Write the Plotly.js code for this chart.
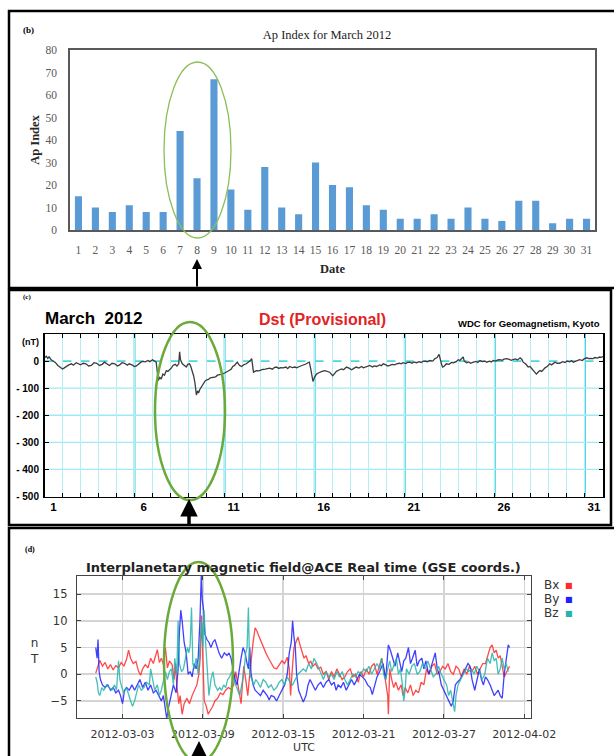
<!DOCTYPE html>
<html>
<head>
<meta charset="utf-8">
<script src="https://cdn.plot.ly/plotly-3.0.1.min.js"></script>
<style>html,body{margin:0;padding:0;background:#fff;}#chart{width:614px;height:756px;}</style>
</head>
<body>
<div id="chart"></div>
<script>
// ---------- Panel (b): Ap index, March 2012 ----------
const apDay = [1,2,3,4,5,6,7,8,9,10,11,12,13,14,15,16,17,18,19,20,21,22,23,24,25,26,27,28,29,30,31];
const apIndex = [15,10,8,11,8,8,44,23,67,18,9,28,10,7,30,20,19,11,9,5,5,7,5,10,5,4,13,13,3,5,5];

// ---------- Panel (c): Dst (provisional), day of March (0 = Mar 1 00UT) ----------
const dstDay = [
 0,0.1,0.18,0.25,0.37,0.5,0.6,0.74,0.85,1.0,
 1.1,1.2,1.35,1.5,1.6,1.76,1.9,2.0,2.15,2.3,
 2.45,2.6,2.75,2.9,3.05,3.2,3.33,3.45,3.6,3.75,
 3.9,4.05,4.17,4.3,4.44,4.6,4.7,4.85,5.0,5.1,
 5.2,5.35,5.46,5.6,5.74,5.85,6.0,6.1,6.2,6.27,
 6.32,6.4,6.48,6.57,6.66,6.76,6.85,6.94,7.05,7.13,
 7.25,7.35,7.45,7.5,7.55,7.65,7.75,7.87,7.95,8.05,
 8.12,8.2,8.28,8.35,8.43,8.5,8.55,8.62,8.7,8.8,
 8.9,8.98,9.1,9.2,9.35,9.5,9.6,9.7,9.85,10.0,
 10.1,10.25,10.37,10.45,10.55,10.62,10.7,10.78,10.83,10.95,
 11.05,11.2,11.3,11.4,11.5,11.55,11.6,11.68,11.76,11.9,
 12.0,12.1,12.25,12.4,12.5,12.65,12.75,12.87,13.0,13.1,
 13.24,13.4,13.5,13.6,13.75,13.9,14.0,14.15,14.35,14.45,
 14.54,14.62,14.7,14.78,14.85,14.9,15.0,15.1,15.2,15.28,
 15.4,15.56,15.7,15.83,15.92,16.0,16.1,16.2,16.35,16.5,
 16.6,16.76,16.9,17.05,17.15,17.3,17.45,17.6,17.7,17.85,
 17.95,18.06,18.2,18.3,18.43,18.6,18.7,18.8,18.95,19.05,
 19.17,19.3,19.45,19.54,19.7,19.8,19.9,20.05,20.15,20.28,
 20.4,20.5,20.65,20.8,20.9,21.0,21.15,21.25,21.4,21.55,
 21.67,21.78,21.9,21.97,22.05,22.1,22.2,22.3,22.45,22.6,
 22.7,22.85,22.96,23.05,23.15,23.24,23.3,23.43,23.55,23.65,
 23.8,23.95,24.05,24.17,24.3,24.45,24.54,24.7,24.8,24.9,
 25.05,25.15,25.28,25.4,25.5,25.65,25.8,25.9,26.0,26.15,
 26.25,26.4,26.5,26.57,26.7,26.85,26.95,27.1,27.2,27.3,
 27.38,27.5,27.6,27.68,27.78,27.9,28.05,28.15,28.33,28.45,
 28.6,28.75,28.9,29.0,29.15,29.25,29.35,29.5,29.6,29.7,
 29.85,29.95,30.1,30.2,30.3,30.45,30.55,30.7,30.8,30.9,
 31.0];
const dstNT = [
 12,18,10,16,5,0,-5,-16,-22,-29,
 -25,-20,-14,-10,-15,-6,-12,-14,-8,-10,
 -18,-16,-6,-8,-16,-12,-4,-9,-16,-8,
 -10,-18,-14,-6,-8,-15,-10,-14,-20,-18,
 -12,-4,-1,-3,2,-2,5,2,-4,-45,
 -72,-60,-66,-48,-52,-35,-38,-32,-25,-16,
 -12,-18,-10,34,5,-10,-16,-22,-12,-10,
 -20,-35,-55,-80,-125,-110,-118,-105,-95,-85,
 -75,-70,-68,-62,-60,-58,-52,-51,-48,-44,
 -41,-35,-29,-20,-16,-10,-4,-12,-16,-20,
 -14,-10,-6,0,9,-20,-41,-38,-35,-36,
 -33,-31,-30,-28,-26,-30,-24,-22,-27,-24,
 -25,-22,-28,-20,-24,-22,-25,-20,-16,-12,
 -10,-6,-4,-30,-60,-75,-58,-48,-44,-41,
 -38,-35,-38,-41,-48,-54,-46,-38,-33,-29,
 -32,-22,-26,-32,-28,-22,-26,-20,-25,-22,
 -18,-16,-22,-18,-20,-14,-17,-10,-14,-18,
 -16,-12,-14,-10,-8,-10,-6,-9,-5,-4,
 -8,-3,-6,-2,-5,-1,0,-3,2,0,
 9,12,25,0,-15,-22,-18,-10,-12,-5,
 -6,-2,5,2,8,15,0,-6,-3,-8,
 -4,-1,-5,2,-2,0,-4,0,-3,2,
 0,4,5,3,7,9,6,3,5,8,
 4,12,6,-4,-10,-22,-20,-32,-38,-48,
 -42,-35,-38,-30,-25,-20,-10,-14,-4,-8,
 -8,-2,-5,0,-3,2,-4,0,3,5,
 2,8,12,9,10,9,13,11,15,14,
 17];
const dstTickVals = [0.5,5.5,10.5,15.5,20.5,25.5,30.5];
const dstTickText = ['1','6','11','16','21','26','31'];
const dstYTickVals = [0,-100,-200,-300,-400,-500];
const dstYTickText = ['0','- 100','- 200','- 300','- 400','- 500'];
const dstGridLevels = [-100,-200,-300,-400];
const dstMajorDays = [5,10,15,20,25,30];

// ---------- Panel (d): IMF @ ACE (GSE), day of March ----------
const bxDay = [
 0,0.15,0.3,0.5,0.7,0.9,1.1,1.3,1.5,1.7,
 1.9,2.1,2.3,2.45,2.6,2.8,3.0,3.2,3.35,3.5,
 3.7,3.9,4.1,4.3,4.45,4.6,4.75,4.9,5.05,5.2,
 5.35,5.5,5.7,5.85,5.95,6.05,6.2,6.3,6.45,6.6,
 6.8,7.0,7.2,7.4,7.55,7.7,7.8,7.9,7.95,8.0,
 8.1,8.25,8.4,8.55,8.7,8.9,9.1,9.3,9.5,9.7,
 9.9,10.1,10.3,10.45,10.55,10.7,10.85,10.95,11.05,11.2,
 11.35,11.5,11.6,11.75,11.9,12.05,12.2,12.35,12.5,12.7,
 12.9,13.1,13.3,13.5,13.7,13.9,14.1,14.3,14.45,14.55,
 14.65,14.8,14.95,15.1,15.25,15.4,15.55,15.7,15.9,16.05,
 16.2,16.4,16.6,16.8,17.0,17.2,17.4,17.6,17.8,18.0,
 18.2,18.4,18.6,18.8,19.0,19.2,19.4,19.6,19.8,20.0,
 20.2,20.4,20.6,20.8,21.0,21.2,21.35,21.5,21.65,21.8,
 21.85,21.95,22.1,22.25,22.4,22.6,22.8,22.95,23.1,23.3,
 23.5,23.7,23.9,24.1,24.3,24.5,24.7,24.9,25.1,25.3,
 25.5,25.7,25.9,26.1,26.3,26.5,26.7,26.9,27.1,27.3,
 27.5,27.7,27.9,28.1,28.3,28.5,28.7,28.9,29.1,29.3,
 29.45,29.6,29.75,29.9,30.05,30.2,30.35,30.5,30.7,30.9];
const bxNT = [
 0.2,1.5,2.6,1.5,2.2,1.0,1.8,0.8,1.6,1.2,
 2.2,1.5,2.8,4.5,3.0,2.0,2.4,0.5,-0.2,1.0,
 1.8,1.2,3.0,2.0,3.2,4.6,2.2,3.0,1.8,5.0,
 1.2,2.5,1.8,-1.0,2.0,-2.0,-5.5,-4.0,-7.5,-5.5,
 -4.5,-5.5,-4.0,-3.0,-2.0,0.0,3.0,11.0,6.0,2.0,
 -5.0,-6.0,-7.5,-6.8,-6.2,-5.0,-4.5,-3.5,-3.8,-3.0,
 -2.5,-2.8,-2.0,0.5,-1.0,-3.0,-5.5,-2.0,1.5,-1.0,
 -4.0,0.0,3.0,6.0,8.7,8.0,7.0,6.0,5.0,4.0,
 3.0,2.0,1.2,1.0,1.8,2.5,2.0,3.2,1.0,-4.0,
 0.0,5.0,6.0,7.0,5.5,4.0,3.0,3.5,2.0,2.5,
 1.5,2.0,1.0,1.3,0.0,0.5,-1.0,0.5,-0.5,1.0,
 0.0,-1.0,-0.5,0.5,1.0,-0.5,0.0,-1.5,0.5,-0.5,
 1.0,0.0,1.5,2.0,0.0,1.5,3.0,1.0,-2.0,-4.0,
 -7.5,1.0,-1.0,-2.5,-1.5,-3.0,-2.0,-4.0,-2.5,-3.5,
 -2.0,-4.0,-3.0,-3.5,-1.5,-2.0,1.0,0.0,1.5,2.0,
 0.0,0.5,1.5,1.0,2.0,0.5,0.0,1.5,1.0,-0.5,
 1.0,0.0,1.5,0.5,1.5,0.0,1.0,2.0,2.0,3.5,
 5.0,5.5,4.0,4.5,3.0,3.5,1.5,-0.5,0.5,1.5];
const byDay = [
 0,0.1,0.17,0.25,0.35,0.5,0.7,0.9,1.1,1.3,
 1.5,1.7,1.85,2.0,2.15,2.3,2.5,2.7,2.9,3.1,
 3.3,3.5,3.7,3.9,4.1,4.3,4.5,4.7,4.9,5.05,
 5.2,5.3,5.45,5.6,5.8,6.0,6.15,6.25,6.35,6.45,
 6.6,6.75,6.9,7.05,7.2,7.35,7.5,7.65,7.78,7.88,
 7.95,8.05,8.15,8.3,8.45,8.6,8.75,8.9,9.05,9.2,
 9.4,9.6,9.8,9.95,10.1,10.25,10.4,10.55,10.7,10.85,
 11.0,11.15,11.3,11.4,11.5,11.6,11.75,11.9,12.1,12.3,
 12.5,12.65,12.8,12.95,13.1,13.3,13.5,13.7,13.9,14.1,
 14.3,14.45,14.6,14.7,14.8,14.9,15.0,15.15,15.3,15.5,
 15.7,15.85,16.0,16.2,16.4,16.6,16.8,17.0,17.2,17.4,
 17.6,17.8,17.95,18.1,18.3,18.5,18.7,18.9,19.1,19.3,
 19.5,19.7,19.9,20.1,20.3,20.5,20.65,20.85,21.0,21.2,
 21.45,21.65,21.75,21.85,22.0,22.15,22.35,22.55,22.7,22.85,
 23.0,23.15,23.35,23.5,23.65,23.85,24.0,24.15,24.35,24.5,
 24.65,24.85,25.0,25.15,25.35,25.5,25.65,25.8,26.0,26.2,
 26.4,26.55,26.7,26.85,27.0,27.2,27.4,27.6,27.8,27.95,
 28.1,28.3,28.45,28.65,28.8,28.95,29.1,29.25,29.45,29.6,
 29.75,29.9,30.05,30.2,30.35,30.5,30.65,30.8,30.9];
const byNT = [
 5,3,6.5,0.5,-1,-2,-2.5,-2,-3,-2.5,
 -3.5,-3,-4,-5.5,-3,-2.5,-3,-2,-3,-2,
 -1,-2.5,-1.5,-3,-2,-3.5,-3,-4,-5,-4,
 -7,-8.3,-6,-4,-2,-3.5,1,8,12,10,
 6,4,0,0.5,-0.5,2,1,3,10,18.5,
 14,12,7.5,6.5,6,5,6,6.5,5,4,
 3,4,3.5,4,3,1,-1,-2,1,3,
 5,4,2,1,5,0,-2,-3,-3.5,-4,
 -3,-3.5,-4,-4.8,-4,-4.2,-5,-4,-3,-2,
 0,4,6,10,7,5,0,-3,-4,-5.2,
 -4,-2,-1,-2,-3,-2,-1.5,-2.5,-1.5,-1,
 -2,-1.5,-3,-2,-2.5,-1.5,-3,-2,-1,-2,
 -1,0,-0.5,-1,-2,-2.5,-3.8,-2,-0.5,0.5,
 2,-1,2,5.5,4.5,3,1.5,4,2,0.5,
 2.5,3,5,2,3,4.5,1.5,2.5,3,1,
 2.5,0,1,2.5,4,1,0,-2,-3,-4,
 -5,-6,-5,-2,-1.5,-1,0,1,2,1.5,
 -1,-3,-1,1,-1,-2,-0.5,-1,-2,-3,
 -4,-3.5,-3,-4,-4.5,0,3,5.5,5];
const bzDay = [
 0,0.1,0.2,0.3,0.45,0.6,0.8,1.0,1.2,1.4,
 1.55,1.7,1.8,1.95,2.1,2.3,2.45,2.6,2.75,2.9,
 3.05,3.2,3.4,3.6,3.8,4.0,4.1,4.25,4.4,4.6,
 4.75,4.9,5.05,5.2,5.35,5.5,5.65,5.8,5.9,6.05,
 6.15,6.25,6.4,6.55,6.7,6.85,6.95,7.05,7.15,7.25,
 7.35,7.5,7.65,7.8,7.9,8.0,8.08,8.2,8.35,8.45,
 8.6,8.75,8.9,9.1,9.25,9.4,9.55,9.7,9.85,10.0,
 10.15,10.3,10.45,10.6,10.75,10.9,11.05,11.2,11.3,11.4,
 11.5,11.65,11.8,11.95,12.1,12.3,12.5,12.7,12.9,13.1,
 13.3,13.5,13.7,13.9,14.1,14.3,14.5,14.7,14.9,15.1,
 15.3,15.5,15.7,15.9,16.1,16.3,16.5,16.7,16.85,17.0,
 17.2,17.4,17.6,17.8,18.0,18.2,18.4,18.6,18.8,19.0,
 19.2,19.4,19.6,19.8,20.0,20.2,20.4,20.6,20.8,21.0,
 21.2,21.35,21.5,21.65,21.8,21.95,22.1,22.3,22.45,22.6,
 22.75,22.9,23.0,23.1,23.2,23.4,23.6,23.8,24.0,24.2,
 24.4,24.6,24.8,25.0,25.2,25.4,25.6,25.8,26.0,26.2,
 26.35,26.5,26.65,26.8,26.9,27.05,27.25,27.45,27.65,27.85,
 28.05,28.25,28.45,28.65,28.85,29.05,29.25,29.45,29.6,29.75,
 29.9,30.05,30.2,30.35,30.5,30.65,30.8];
const bzNT = [
 -0.5,-1.5,-3.5,-4,-2.5,-3,-2,-2.5,-3,-2,
 -3,2.5,-1,-2.5,-3.5,-2.5,-4,-5,-6,-5,
 -3.5,-2,-3,-2.5,-1.5,-2,1,-1,-3,-2,
 -4,-3,-1,0.5,-1,0.5,1,-2,3,0,
 10,2,0.5,1,3,5,4,5.5,12.5,2,
 1,3,0,5,10,5,12,6,0,-4,
 -1,0.5,-2,-3,-2.5,-3,-2,-2.5,-1,-0.5,
 0.5,-1,-2,-3,-4,-2,0,4,5,12.5,
 0,-1,-2,-1,-1.5,-2.5,-1,-1.5,-2.5,-2,
 -3,-2.5,-1.5,-1,-2,-0.5,-1.5,-2,-1,0,
 0.5,1,0.5,2,1,3,2,1,0,-1,
 0.5,-0.5,0,-1,0.5,-0.5,0.5,-1,-2,-1,
 0,-0.5,0.5,0,1,0.5,1.5,0,1,2,
 1,3,0,-1,1,2.5,0.5,2,3,0,
 1,-2,-5,-3,1,0,1.5,2,0,0.5,
 2,1,2.5,1,-0.5,0,1.5,0,-1,-2,
 -4,-3,-5,-7,-4,-2,-1,0,1,0.5,
 1,0,1.5,0.5,-1,0,3,2,4,2.5,
 3,0,1,3,1,2,0.5];
const imfTickVals = [2,8,14,20,26,32];
const imfTickText = ['2012-03-03','2012-03-09','2012-03-15','2012-03-21','2012-03-27','2012-04-02'];
const imfNames = ['Bx','By','Bz'];
const imfColors = ['#ff2a2a','#1f1fff','#26b3ad'];

[[dstDay,dstNT],[bxDay,bxNT],[byDay,byNT],[bzDay,bzNT]].forEach(function(p,i){
  if (p[0].length !== p[1].length) throw new Error('length mismatch in series '+i+': '+p[0].length+' vs '+p[1].length);
});

// ---------- geometry helpers (canvas pixel -> paper fraction) ----------
const W = 614, H = 756;
const PX = v => v / W;
const PY = v => 1 - v / H;

const data = [
  {type:'bar', x: apDay, y: apIndex, xaxis:'x', yaxis:'y', width:0.42,
   marker:{color:'#5b9bd5'}, hoverinfo:'x+y'},
  {type:'scatter', mode:'lines', x: dstDay, y: dstNT, xaxis:'x2', yaxis:'y2',
   line:{color:'#3c3c3c', width:1.3}},
  {type:'scatter', mode:'lines', name: imfNames[0], x: bxDay, y: bxNT, xaxis:'x3', yaxis:'y3',
   line:{color: imfColors[0], width:1.3}, opacity:0.85},
  {type:'scatter', mode:'lines', name: imfNames[1], x: byDay, y: byNT, xaxis:'x3', yaxis:'y3',
   line:{color: imfColors[1], width:1.3}, opacity:0.85},
  {type:'scatter', mode:'lines', name: imfNames[2], x: bzDay, y: bzNT, xaxis:'x3', yaxis:'y3',
   line:{color: imfColors[2], width:1.3}, opacity:0.85}
];

const serifTick = {family:'Liberation Serif, serif', size:11.5, color:'#595959'};
const serifTitle = {family:'Liberation Serif, serif', size:12.5, color:'#262626', weight:'bold'};
const sansBold = {family:'Liberation Sans, Arial, sans-serif', size:11.5, color:'#000', weight:'bold'};
const djv = {family:'DejaVu Sans, sans-serif', size:11, color:'#333'};

const shapes = [];
// panel frames
shapes.push({type:'rect', xref:'paper', yref:'paper', x0:PX(9), x1:PX(620), y0:PY(288), y1:PY(11), line:{color:'#000', width:2.5}});
shapes.push({type:'rect', xref:'paper', yref:'paper', x0:PX(9), x1:PX(611), y0:PY(525), y1:PY(290), line:{color:'#000', width:2.5}});
shapes.push({type:'rect', xref:'paper', yref:'paper', x0:PX(9), x1:PX(620), y0:PY(762), y1:PY(528), line:{color:'#000', width:2.5}});
// Dst grid: thick cyan lines every 5 days, horizontal levels, dashed zero
dstMajorDays.forEach(d => shapes.push({type:'line', layer:'below', xref:'x2', yref:'y2 domain', x0:d, x1:d, y0:0, y1:1, line:{color:'#52d3e4', width:2}}));
dstGridLevels.forEach(v => shapes.push({type:'line', layer:'below', xref:'x2 domain', yref:'y2', x0:0, x1:1, y0:v, y1:v, line:{color:'#9fe9f3', width:1.3}}));
shapes.push({type:'line', layer:'below', xref:'x2 domain', yref:'y2', x0:0, x1:1, y0:0, y1:0, line:{color:'#52d3e4', width:1.6, dash:'dash'}});
// highlight ellipses
shapes.push({type:'circle', xref:'paper', yref:'paper', x0:PX(164), x1:PX(231), y0:PY(238), y1:PY(62), line:{color:'#8cbf5a', width:1.3}});
shapes.push({type:'circle', xref:'paper', yref:'paper', x0:PX(155), x1:PX(225), y0:PY(500), y1:PY(322), line:{color:'#6aaa3a', width:2.5}});
shapes.push({type:'circle', xref:'paper', yref:'paper', x0:PX(164), x1:PX(233), y0:PY(762), y1:PY(562), line:{color:'#6aaa3a', width:2.5}});

const ann = (px, py, text, font, extra) => Object.assign({xref:'paper', yref:'paper', x:PX(px), y:PY(py), text:text, showarrow:false, font:font, xanchor:'center', yanchor:'middle'}, extra||{});
const annotations = [
  ann(28, 30, '(b)', {family:'Liberation Serif, serif', size:9, color:'#000', weight:'bold'}),
  ann(27, 297, '(c)', {family:'Liberation Serif, serif', size:7, color:'#000', weight:'bold'}),
  ann(93, 318, 'March\u00a0 2012', {family:'Liberation Sans, Arial, sans-serif', size:17, color:'#000', weight:'bold'}),
  ann(322, 319, 'Dst (Provisional)', {family:'Liberation Sans, Arial, sans-serif', size:16, color:'#e3231f', weight:'bold'}),
  ann(602, 323, 'WDC for Geomagnetism, Kyoto', {family:'Liberation Sans, Arial, sans-serif', size:9.5, color:'#000', weight:'bold'}, {xanchor:'right'}),
  ann(30, 342, '(nT)', {family:'Liberation Sans, Arial, sans-serif', size:9, color:'#000', weight:'bold'}),
  ann(30, 549, '(d)', {family:'Liberation Serif, serif', size:8, color:'#000', weight:'bold'}),
  ann(303, 567, 'Interplanetary magnetic field@ACE Real time (GSE coords.)', {family:'DejaVu Sans, sans-serif', size:13, color:'#222', weight:'bold'}),
  ann(34, 651, 'n<br>T', {family:'DejaVu Sans, sans-serif', size:12, color:'#333'}),
  // arrows
  {xref:'paper', yref:'paper', x:PX(197), y:PY(259), ax:0, ay:29, text:'', showarrow:true, arrowhead:2, arrowsize:1, arrowwidth:2, arrowcolor:'#000', standoff:0},
  {xref:'paper', yref:'paper', x:PX(189), y:PY(499), ax:0, ay:28, text:'', showarrow:true, arrowhead:2, arrowsize:1, arrowwidth:3.5, arrowcolor:'#000', standoff:0},
  {xref:'paper', yref:'paper', x:PX(199), y:PY(741), ax:0, ay:20, text:'', showarrow:true, arrowhead:2, arrowsize:1, arrowwidth:4, arrowcolor:'#000', standoff:0}
];
// IMF legend: name then coloured square
const legendY = [585, 599, 613];
imfNames.forEach((n, i) => {
  annotations.push(ann(561, legendY[i], n, {family:'DejaVu Sans, sans-serif', size:12, color:'#333'}, {xanchor:'right'}));
  annotations.push(ann(569, legendY[i], '\u25A0', {family:'DejaVu Sans, sans-serif', size:8, color:imfColors[i]}));
});

const layout = {
  width: W, height: H,
  margin: {l:0, r:0, t:0, b:0},
  paper_bgcolor:'#fff', plot_bgcolor:'#fff',
  showlegend:false,
  title: {text:'Ap Index for March 2012', xref:'container', yref:'container', x:PX(327), y:PY(35), xanchor:'center', yanchor:'middle',
          font:{family:'Liberation Serif, serif', size:12.5, color:'#222'}},
  // panel (b)
  xaxis: {domain:[PX(70), PX(595)], anchor:'y', range:[0.5, 31.5], tickmode:'array', tickvals: apDay, ticks:'',
          showline:true, mirror:true, linecolor:'#595959', linewidth:1.6, showgrid:false, zeroline:false,
          tickfont: serifTick, ticklabelstandoff:9,
          title:{text:'Date', font: serifTitle, standoff:9}},
  yaxis: {domain:[PY(230), PY(50)], anchor:'x', range:[0, 80], dtick:10, tick0:0, ticks:'',
          showline:true, mirror:true, linecolor:'#595959', linewidth:1.6, showgrid:false, zeroline:false,
          tickfont: serifTick, ticklabelstandoff:9,
          title:{text:'Ap Index', font: serifTitle, standoff:3}},
  // panel (c)
  xaxis2: {domain:[PX(44.5), PX(603)], anchor:'y2', range:[0, 31], tickmode:'array', tickvals: dstTickVals, ticktext: dstTickText,
           ticks:'', showgrid:false, zeroline:false, showline:true, mirror:'allticks', linecolor:'#000', linewidth:1.5,
           minor:{dtick:1, tick0:0, ticks:'inside', ticklen:4, tickcolor:'#000', tickwidth:1, showgrid:true, gridcolor:'#b3eff7', gridwidth:1},
           tickfont: sansBold, ticklabelstandoff:-1},
  yaxis2: {domain:[PY(496.5), PY(334)], anchor:'x2', range:[-500, 100], tickmode:'array', tickvals: dstYTickVals, ticktext: dstYTickText,
           ticks:'inside', ticklen:4, tickcolor:'#000', showgrid:false, zeroline:false, showline:true, mirror:'allticks', linecolor:'#000', linewidth:1.5,
           tickfont: {family:'Liberation Sans, Arial, sans-serif', size:10, color:'#000', weight:'bold'}, ticklabelstandoff:2},
  // panel (d)
  xaxis3: {domain:[PX(77), PX(531)], anchor:'y3', range:[-1.4, 32.5], tickmode:'array', tickvals: imfTickVals, ticktext: imfTickText,
           ticks:'inside', ticklen:4, tickcolor:'#444', showgrid:true, gridcolor:'#d4d4d4', gridwidth:1.5, zeroline:false,
           showline:true, mirror:'allticks', linecolor:'#444', linewidth:1.2, tickfont: djv, ticklabelstandoff:6,
           title:{text:'UTC', font: djv, standoff:2}},
  yaxis3: {domain:[PY(718), PY(576)], anchor:'x3', range:[-8.2, 18.4], dtick:5, tick0:0,
           ticks:'inside', ticklen:4, tickcolor:'#444', showgrid:true, gridcolor:'#d4d4d4', gridwidth:1.5, zeroline:false,
           showline:true, mirror:'allticks', linecolor:'#444', linewidth:1.2, tickfont: {family:'DejaVu Sans, sans-serif', size:11.5, color:'#333'}, ticklabelstandoff:6},
  shapes: shapes,
  annotations: annotations
};

Plotly.newPlot('chart', data, layout, {displayModeBar:false, staticPlot:true});
</script>
</body>
</html>
